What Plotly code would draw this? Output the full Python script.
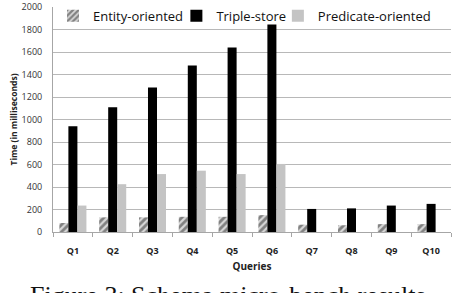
import plotly.graph_objects as go

queries = ["Q1", "Q2", "Q3", "Q4", "Q5", "Q6", "Q7", "Q8", "Q9", "Q10"]
entity = [80, 130, 130, 135, 135, 150, 65, 60, 70, 70]
triple = [940, 1110, 1285, 1480, 1640, 1845, 205, 210, 235, 250]
predicate = [235, 425, 515, 545, 515, 605, 0, 0, 0, 0]
y_ticks = [0, 200, 400, 600, 800, 1000, 1200, 1400, 1600, 1800, 2000]

FONT = "Open Sans"

fig = go.Figure()
fig.add_trace(go.Bar(
    x=queries, y=entity, name="Entity-oriented", legend="legend",
    marker=dict(color="white", line=dict(width=0),
                pattern=dict(shape="/", fgcolor="#2a2a2a", bgcolor="#d8d8d8",
                             size=5, solidity=0.55)),
))
fig.add_trace(go.Bar(
    x=queries, y=triple, name="Triple-store", legend="legend2",
    marker=dict(color="black", line=dict(width=0)),
))
fig.add_trace(go.Bar(
    x=queries, y=predicate, name="Predicate-oriented", legend="legend3",
    marker=dict(color="#c4c4c4", line=dict(width=0)),
))

leg_common = dict(orientation="h", y=1.028, yanchor="top", xanchor="left",
                  font=dict(size=13, family=FONT, color="#111"),
                  bgcolor="rgba(0,0,0,0)", itemwidth=30, borderwidth=0)

fig.update_layout(
    width=463, height=293,
    margin=dict(l=53, r=12, t=7, b=61, autoexpand=False),
    paper_bgcolor="white", plot_bgcolor="white",
    barmode="group", bargap=0.32, bargroupgap=0,
    font=dict(family=FONT, color="#222"),
    showlegend=True,
    legend=dict(x=0.0, **leg_common),
    legend2=dict(x=0.31, **leg_common),
    legend3=dict(x=0.565, **leg_common),
    xaxis=dict(
        showgrid=False, showline=True, linecolor="#a6a6a6", linewidth=1,
        ticks="outside", tickson="boundaries", ticklen=4, tickcolor="#a6a6a6",
        ticklabelstandoff=10,
        tickfont=dict(size=9, family=FONT, color="#222", weight="bold"),
        title=dict(text="Queries", font=dict(size=10, family=FONT, color="#222", weight="bold"),
                   standoff=7),
        fixedrange=True,
    ),
    yaxis=dict(
        range=[0, 2000], tickvals=y_ticks, showgrid=True, gridcolor="#b8b8b8", gridwidth=1,
        showline=True, linecolor="#a6a6a6", linewidth=1, zeroline=False,
        ticks="", ticklabelstandoff=8, tickfont=dict(size=9, family=FONT, color="#333"),
        title=dict(text="Time (in milliseconds)",
                   font=dict(size=8.5, family=FONT, color="#222", weight="bold"), standoff=2),
        fixedrange=True,
    ),
    annotations=[dict(
        text="Figure 3: Schema micro-bench results", xref="paper", yref="paper",
        x=0.44, y=-0.208, xanchor="center", yanchor="top", showarrow=False,
        font=dict(family="Liberation Serif", size=26, color="#111"),
    )],
)

fig.write_html("out.html")
